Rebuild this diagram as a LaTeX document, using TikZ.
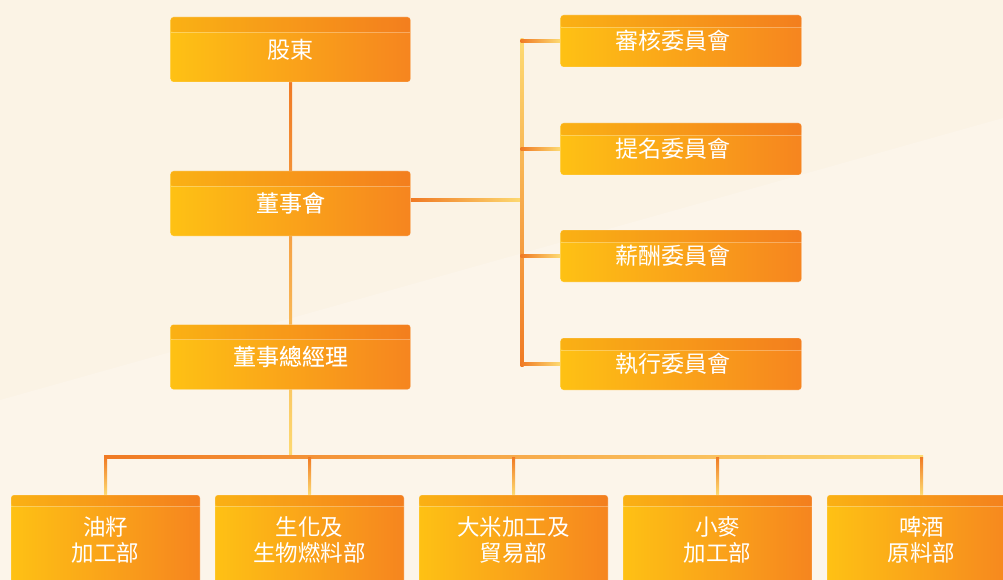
\documentclass[tikz,border=0pt]{standalone}
\usepackage{fontspec}
\setmainfont{Noto Sans CJK TC}
\newfontfamily\medfont{Noto Sans CJK TC}[FakeBold=1.2]
\pgfdeclarelayer{bgfill}
\pgfdeclarelayer{links}
\pgfsetlayers{bgfill,links,main}
\definecolor{bgc}{HTML}{FBF3E5}
\definecolor{bgl}{HTML}{FCF5EA}
\definecolor{boxY}{HTML}{FEC114}
\definecolor{boxO}{HTML}{F6851F}
\definecolor{lnO}{HTML}{F07A24}
\definecolor{lnY}{HTML}{FDDA72}
\definecolor{bandc}{HTML}{E8601A}
\tikzset{
  bandh/.store in=\bandh, bandh=15pt,
  orgbox/.style={rounded corners=3pt, inner sep=0pt, left color=boxY, right color=boxO,
    draw=white, draw opacity=.25, line width=.6pt, text=white, align=center,
    font=\fontsize{23pt}{26pt}\selectfont,
    path picture={
      \fill[bandc, opacity=.16] (path picture bounding box.north west) rectangle ([yshift=-\bandh]path picture bounding box.north east);
      \draw[white, opacity=.3, line width=.8pt] ([yshift=-\bandh]path picture bounding box.north west) -- ([yshift=-\bandh]path picture bounding box.north east);
    }},
  topbox/.style={orgbox, minimum width=240pt, minimum height=65pt, bandh=15pt},
  combox/.style={orgbox, minimum width=241pt, minimum height=52pt, bandh=12pt},
  depbox/.style={orgbox, minimum width=189pt, minimum height=90pt, bandh=11pt,
    font=\fontsize{22.5pt}{26pt}\selectfont},
}
\begin{document}
\begin{tikzpicture}[x=1pt,y=-1pt]
\useasboundingbox (0,0) rectangle (1003,580);
\begin{pgfonlayer}{bgfill}
  \fill[bgc] (0,0) rectangle (1003,580);
  \fill[bgl] (0,400) -- (1003,118) -- (1003,580) -- (0,580) -- cycle;
\end{pgfonlayer}

% left column
\node[topbox] (sh) at (290.5,49.5) {\raisebox{2pt}{股東}};
\node[topbox] (bd) at (290.5,203.5) {\raisebox{3pt}{\medfont 董事會}};
\node[topbox] (ceo) at (290.5,357) {\raisebox{3pt}{\medfont 董事總經理}};

% committees
\node[combox] (c1) at (681,41) {\hspace*{-16pt}審核委員會};
\node[combox] (c2) at (681,149) {\hspace*{-16pt}提名委員會};
\node[combox] (c3) at (681,256) {\hspace*{-16pt}薪酬委員會};
\node[combox] (c4) at (681,364) {\hspace*{-16pt}執行委員會};

% departments
\node[depbox] (d1) at (105.5,540) {油籽\\加工部};
\node[depbox] (d2) at (309.5,540) {生化及\\生物燃料部};
\node[depbox] (d3) at (513.5,540) {大米加工及\\貿易部};
\node[depbox] (d4) at (717.5,540) {小麥\\加工部};
\node[depbox] (d5) at (921.5,540) {啤酒\\原料部};

\coordinate (bus) at (290.5,457);
\coordinate (ctop) at (522,40);
\coordinate (cbot) at (522,365);
\coordinate (cmid) at (522,200);

\begin{pgfonlayer}{links}
  % main trunk
  \shade[top color=lnO, bottom color=lnY] ([xshift=-1.5pt]sh.south) rectangle ([xshift=1.5pt]bus);
  % bus
  \shade[left color=lnO, right color=lnY] ([xshift=-1.5pt,yshift=1.5pt]d1.north |- bus) rectangle ([xshift=1.5pt,yshift=-1.5pt]d5.north |- bus);
  % drops
  \foreach \d in {d1,d2,d3,d4,d5}{
    \shade[top color=lnO, bottom color=lnY] ([xshift=-1.5pt]\d.north |- bus) rectangle ([xshift=1.5pt]\d.north);
  }
  % board to committee trunk
  \shade[left color=lnO, right color=lnY] ([yshift=5pt]bd.east) rectangle ([yshift=-1.5pt]cmid);
  % committee trunk
  \shade[top color=lnY, bottom color=lnO] ([xshift=-1.5pt,yshift=1.5pt]ctop) rectangle ([xshift=1.5pt,yshift=-1.5pt]cbot);
  % branches
  \foreach \c in {c1,c2,c3,c4}{
    \shade[left color=lnO, right color=lnY] ([xshift=-1.5pt,yshift=1.5pt]ctop |- \c.west) rectangle ([yshift=-1.5pt]\c.west);
  }
\end{pgfonlayer}
\end{tikzpicture}
\end{document}
